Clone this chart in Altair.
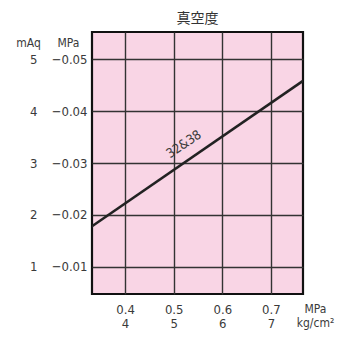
import altair as alt
import pandas as pd

# line data (MPa supply pressure -> vacuum MPa)
supply_mpa = [0.33, 0.766]
vacuum_mpa = [-0.0177, -0.0458]
# label position
label_text = ["32&38"]
label_x = [0.521]
label_y = [-0.0336]
# ticks
x_ticks = [0.4, 0.5, 0.6, 0.7]
y_ticks = [-0.01, -0.02, -0.03, -0.04, -0.05]
maq_ticks = [1, 2, 3, 4, 5]

FONT = "'DejaVu Sans Condensed', 'Roboto Condensed', 'Liberation Sans Narrow', 'Liberation Sans', sans-serif"
TXT = "#3a3a3a"

df = pd.DataFrame({"x": supply_mpa, "y": vacuum_mpa})
lab = pd.DataFrame({"x": label_x, "y": label_y, "t": label_text})
maq_df = pd.DataFrame({"m": maq_ticks})

xscale = alt.Scale(domain=[0.332, 0.766], nice=False, zero=False)
yscale = alt.Scale(domain=[-0.0048, -0.0552], nice=False, zero=False)

xaxis = alt.Axis(
    values=x_ticks, grid=True, gridColor="#333333", gridWidth=1.4, gridOpacity=1,
    domain=False, ticks=False, labelPadding=9,
    labelExpr="[format(datum.value, '.1f'), format(datum.value*10, 'd')]",
    labelLineHeight=14, labelFontSize=13, labelColor=TXT, labelFont=FONT,
    title=["MPa", "kg/cm²"], titleFont=FONT, titleFontSize=12, titleFontWeight="normal",
    titleColor=TXT, titleX=223, titleY=9, titleAlign="center", titleBaseline="top",
    titleLineHeight=14)

line = alt.Chart(df).mark_line(color="#222222", strokeWidth=2.6, clip=True).encode(
    x=alt.X("x:Q", scale=xscale, axis=xaxis),
    y=alt.Y("y:Q", scale=yscale, axis=alt.Axis(
        values=y_ticks, grid=True, gridColor="#333333", gridWidth=1.4, gridOpacity=1,
        domain=False, ticks=False, labelPadding=5, format=".2f",
        labelFontSize=13, labelColor=TXT, labelFont=FONT,
        title="MPa", titleFont=FONT, titleFontSize=12, titleFontWeight="normal",
        titleColor=TXT, titleAngle=0, titleX=-24, titleY=10, titleAlign="center",
        titleBaseline="middle")),
)

text = alt.Chart(lab).mark_text(angle=326, fontSize=13, font=FONT, color=TXT).encode(
    x=alt.X("x:Q", scale=xscale, axis=xaxis),
    y=alt.Y("y:Q", scale=yscale, axis=None), text="t:N")

maq = alt.Chart(maq_df).mark_point(opacity=0).encode(
    y=alt.Y("m:Q", scale=alt.Scale(domain=[0.48, 5.52], nice=False, zero=False),
            axis=alt.Axis(values=maq_ticks, orient="left", offset=52, grid=False,
                          domain=False, ticks=False, labelPadding=3, format="d",
                          labelFontSize=13, labelColor=TXT, labelFont=FONT,
                          title="mAq", titleFont=FONT, titleFontSize=12,
                          titleFontWeight="normal", titleColor=TXT, titleAngle=0,
                          titleX=-12, titleY=10, titleAlign="center",
                          titleBaseline="middle")),
)

chart = alt.layer(line, text, maq).resolve_scale(y="independent").properties(
    width=211, height=262,
    title=alt.TitleParams("真空度", font="Noto Sans CJK JP", fontSize=14,
                          fontWeight="normal", color="#333333", offset=6),
    autosize=alt.AutoSizeParams(type="none"),
    padding={"left": 84, "top": 24, "right": 33, "bottom": 36},
).configure_view(fill="#F9D5E5", stroke="#111111", strokeWidth=2.2)

chart.save("out.html", embed_options={"renderer": "svg", "actions": False})
